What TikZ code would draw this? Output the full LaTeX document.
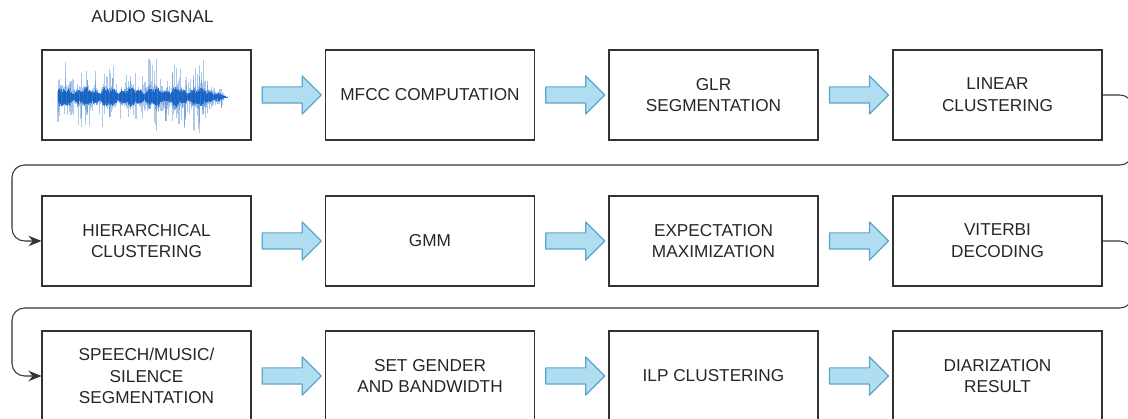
\documentclass[tikz,border=0pt]{standalone}
\usepackage{fontspec}
\setmainfont{Liberation Sans}
\usetikzlibrary{calc,arrows.meta,shapes.arrows}
\definecolor{arrowfill}{HTML}{B1DDF0}
\definecolor{arrowline}{HTML}{5AA5CD}
\definecolor{wavecol}{HTML}{1462C4}
\definecolor{linecol}{HTML}{333333}

\begin{document}
\begin{tikzpicture}[
	box/.style={draw=linecol,line width=0.6pt,minimum width=4.18cm,minimum height=1.8cm,inner sep=0pt,
		align=center,text=black!85,font=\fontsize{9.8}{12.4}\selectfont},
	barrow/.style={single arrow,draw=arrowline,fill=arrowfill,line width=0.7pt,line join=round,
		inner sep=0pt,text width=0pt,text height=0.3cm,text depth=0pt,minimum height=1.18cm,
		single arrow head extend=0.22cm,single arrow head indent=0pt},
	link/.style={draw=linecol,line width=0.6pt,rounded corners=0.25cm,-{Stealth[length=2.6mm,width=2.1mm]}}]
			\useasboundingbox (0,0) rectangle (22.56,-8.38);
			\coordinate (T1) at (0.24,-3.3);
			\coordinate (T2) at (0.24,-6.16);
			\node[text=black!85,font=\fontsize{9.8}{12.4}\selectfont] (L) at (3.05,-0.34) {AUDIO SIGNAL};
			\node[box] (A) at (2.93,-1.9) {};
			\node[box] (B) at (8.6,-1.9) {MFCC COMPUTATION};
			\node[box] (C) at (14.27,-1.9) {GLR\\SEGMENTATION};
			\node[box] (D) at (19.95,-1.9) {LINEAR\\CLUSTERING};
			\node[box] (E) at (2.93,-4.82) {HIERARCHICAL\\CLUSTERING};
			\node[box] (F) at (8.6,-4.82) {GMM};
			\node[box] (G) at (14.27,-4.82) {EXPECTATION\\MAXIMIZATION};
			\node[box] (H) at (19.95,-4.82) {VITERBI\\DECODING};
			\node[box] (I) at (2.93,-7.52) {SPEECH/MUSIC/\\SILENCE\\SEGMENTATION};
			\node[box] (J) at (8.6,-7.52) {SET GENDER\\AND BANDWIDTH};
			\node[box] (K) at (14.27,-7.52) {ILP CLUSTERING};
			\node[box] (M) at (19.95,-7.52) {DIARIZATION\\RESULT};
			\pgfmathsetseed{42}
			\foreach \i in {0,...,300}{
				\pgfmathsetmacro\xx{1.16+\i*0.0113}
				\pgfmathsetmacro\env{(\i<265 ? 1 : (300-\i)/35)*(0.8+0.2*sin(\i*9)+0.15*sin(\i*23))}
				\pgfmathsetmacro\up{\env*(0.12+0.12*rnd+0.6*rnd^5)}
				\pgfmathsetmacro\dn{\env*(0.12+0.12*rnd+0.6*rnd^5)}
				\pgfmathsetmacro\cu{\env*(0.1+0.08*rnd)}
				\pgfmathsetmacro\cd{\env*(0.1+0.08*rnd)}
				\draw[wavecol,opacity=0.35,line width=0.6pt] (\xx,-1.94+\up) -- (\xx,-1.94-\dn);
				\draw[wavecol,opacity=0.8,line width=0.5pt] (\xx,-1.94+\cu) -- (\xx,-1.94-\cd);
			}
			\foreach \p/\q in {A/B,B/C,C/D,E/F,F/G,G/H,I/J,J/K,K/M}{
				\node[barrow] (\p\q) at ($(\p.east)!0.5!(\q.west)+(-0.01,0)$) {};
			}
			\draw[link] (D.east) -- ++(0.6,0) |- (T1) |- (E.west);
			\draw[link] (H.east) -- ++(0.6,0) |- (T2) |- (I.west);
		\end{tikzpicture}
\end{document}
